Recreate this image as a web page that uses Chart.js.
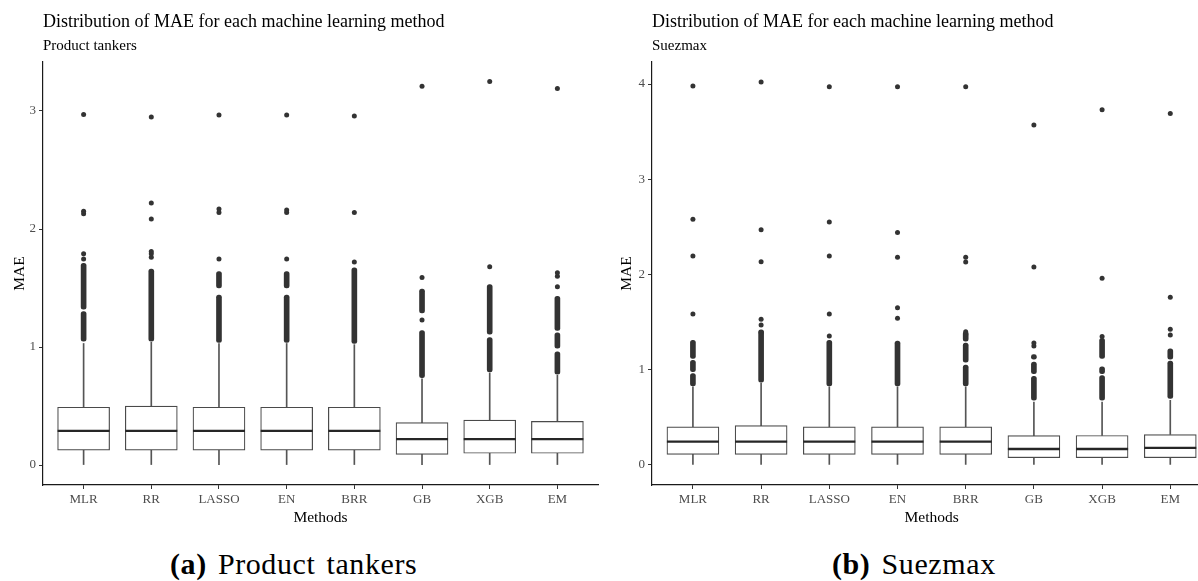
<!DOCTYPE html>
<html>
<head>
<meta charset="utf-8">
<script src="https://cdn.jsdelivr.net/npm/chart.js@4.4.1/dist/chart.umd.min.js"></script>
<style>
  html, body { margin: 0; padding: 0; background: #fff; }
  body { width: 1198px; height: 581px; overflow: hidden; position: relative; font-family: "Liberation Serif", "Times New Roman", serif; }
  .panel { position: absolute; top: 0; height: 532px; overflow: hidden; }
  canvas { position: absolute; left: 0; top: 0; display: block; }
  .title { position: absolute; font-size: 18px; line-height: 18px; color: #000; white-space: nowrap; }
  .subtitle { position: absolute; font-size: 15px; line-height: 15px; color: #000; white-space: nowrap; }
  .caption { position: absolute; top: 549px; font-size: 30px; line-height: 30px; color: #000; white-space: nowrap; letter-spacing: 0.6px; word-spacing: 3px; }
  .caption b { font-weight: bold; }
</style>
</head>
<body>
<div class="panel" style="left:0;width:600px;"><canvas id="c1" width="600" height="532" style="width:600px;height:532px;"></canvas></div>
<div class="panel" style="left:600px;width:598px;"><canvas id="c2" width="620" height="532" style="width:620px;height:532px;"></canvas></div>

<div class="title" style="left:43px;top:12px;">Distribution of MAE for each machine learning method</div>
<div class="subtitle" style="left:43px;top:38px;">Product tankers</div>
<div class="title" style="left:652px;top:12px;">Distribution of MAE for each machine learning method</div>
<div class="subtitle" style="left:652px;top:38px;">Suezmax</div>

<div class="caption" style="left:170px;"><b>(a)</b> Product tankers</div>
<div class="caption" style="left:832px;"><b>(b)</b> Suezmax</div>

<script>
// ---------- categories and tick labels ----------
const methods = ['MLR', 'RR', 'LASSO', 'EN', 'BRR', 'GB', 'XGB', 'EM'];
const ptTicks = [0, 1, 2, 3];
const szTicks = [0, 1, 2, 3, 4];

// ---------- Product tankers (panel a) ----------
const ptLow  = [0, 0, 0, 0, 0, 0, 0, 0];
const ptQ1   = [0.127, 0.127, 0.127, 0.127, 0.127, 0.09, 0.10, 0.10];
const ptMed  = [0.29, 0.29, 0.29, 0.29, 0.29, 0.22, 0.22, 0.22];
const ptQ3   = [0.49, 0.50, 0.49, 0.49, 0.49, 0.36, 0.38, 0.37];
const ptHigh = [1.03, 1.04, 1.03, 1.03, 1.02, 0.73, 0.78, 0.76];
const ptOutliers = [
  [1.745, 1.79, 2.13, 2.15, 2.97],
  [1.76, 1.79, 1.81, 2.085, 2.22, 2.95],
  [1.745, 2.14, 2.17, 2.965],
  [1.745, 2.14, 2.16, 2.965],
  [1.72, 2.14, 2.957],
  [1.23, 1.59, 3.21],
  [1.68, 3.25],
  [1.51, 1.60, 1.63, 3.19]
];
// ranges where outlier points overlap into a solid column
const ptDense = [
  [[1.05, 1.30], [1.32, 1.71]],
  [[1.05, 1.66]],
  [[1.04, 1.44], [1.50, 1.64]],
  [[1.04, 1.44], [1.50, 1.64]],
  [[1.03, 1.67]],
  [[0.74, 1.14], [1.29, 1.49]],
  [[0.79, 1.08], [1.11, 1.53]],
  [[0.77, 0.96], [0.99, 1.12], [1.14, 1.43]]
];

// ---------- Suezmax (panel b) ----------
const szLow  = [0, 0, 0, 0, 0, 0, 0, 0];
const szQ1   = [0.112, 0.112, 0.112, 0.112, 0.112, 0.077, 0.077, 0.077];
const szMed  = [0.245, 0.245, 0.245, 0.245, 0.245, 0.168, 0.168, 0.18];
const szQ3   = [0.40, 0.413, 0.40, 0.40, 0.40, 0.308, 0.31, 0.32];
const szHigh = [0.82, 0.86, 0.82, 0.82, 0.82, 0.66, 0.66, 0.68];
const szOutliers = [
  [1.586, 2.195, 2.58, 3.98],
  [1.39, 1.47, 1.53, 2.135, 2.47, 4.02],
  [1.355, 1.586, 2.195, 2.55, 3.97],
  [1.54, 1.65, 2.18, 2.44, 3.97],
  [1.37, 1.40, 2.13, 2.18, 3.97],
  [1.25, 1.28, 2.08, 3.57],
  [1.35, 1.96, 3.73],
  [1.365, 1.425, 1.76, 3.69]
];
const szDense = [
  [[0.83, 0.96], [0.98, 1.10], [1.12, 1.31]],
  [[0.87, 1.42]],
  [[0.83, 1.31]],
  [[0.83, 1.30]],
  [[0.83, 1.05], [1.08, 1.28], [1.30, 1.40]],
  [[0.68, 0.93], [0.96, 1.08], [1.11, 1.16]],
  [[0.68, 0.94], [0.96, 1.03], [1.12, 1.33]],
  [[0.70, 1.09], [1.11, 1.22]]
];

const FONT = 'Liberation Serif';

function buildDatasets(low, q1, med, q3, high, outl, dense) {
  const pos = i => i + 1;
  return [
    { // individual outliers
      type: 'line', showLine: false, order: 0,
      data: outl.flatMap((vals, i) => vals.map(v => ({ x: pos(i), y: v }))),
      pointRadius: 2.5, pointBackgroundColor: '#333', pointBorderWidth: 0, pointBorderColor: '#333'
    },
    { // overlapping outliers
      type: 'bar', order: 1, grouped: false,
      data: dense.flatMap((segs, i) => segs.map(s => ({ x: pos(i), y: [s[0], s[1]] }))),
      barThickness: 5, borderRadius: 2.5, borderSkipped: false, borderWidth: 0,
      backgroundColor: '#333'
    },
    { // medians
      type: 'line', showLine: false, order: 2,
      data: med.map((v, i) => ({ x: pos(i), y: v })),
      pointStyle: 'line', pointRadius: 26, pointBorderWidth: 2.3, pointBorderColor: '#262626'
    },
    { // boxes
      type: 'bar', order: 3, grouped: false,
      data: q1.map((v, i) => ({ x: pos(i), y: [v, q3[i]] })),
      barThickness: 52, borderSkipped: false, borderWidth: 1.2,
      borderColor: '#4a4a4a', backgroundColor: '#ffffff'
    },
    { // whiskers
      type: 'bar', order: 4, grouped: false,
      data: low.flatMap((v, i) => [{ x: pos(i), y: [v, q1[i]] }, { x: pos(i), y: [q3[i], high[i]] }]),
      barThickness: 1, borderWidth: 0, backgroundColor: '#555'
    }
  ];
}

function makeChart(id, ds, ticksArr, yMin, yMax, yWidth, padRight, yTitlePad) {
  const axisFont = { family: FONT, size: 13 };
  const titleFont = { family: FONT, size: 15.5 };
  return new Chart(document.getElementById(id), {
    type: 'bar',
    data: { datasets: ds },
    options: {
      responsive: false, maintainAspectRatio: false, animation: false, events: [],
      devicePixelRatio: 1,
      layout: { autoPadding: false, padding: { top: 62, right: padRight, left: 0, bottom: 0 } },
      plugins: { legend: { display: false }, tooltip: { enabled: false } },
      scales: {
        x: {
          type: 'linear', min: 0.4, max: 8.6, offset: false,
          afterBuildTicks: s => { s.ticks = methods.map((m, i) => ({ value: i + 1 })); },
          ticks: { callback: v => methods[Math.round(v) - 1], color: '#4d4d4d', font: axisFont, padding: 3, maxRotation: 0, autoSkip: false },
          grid: { offset: false, drawOnChartArea: false, drawTicks: true, tickLength: 4, tickColor: '#333' },
          border: { display: true, color: '#1a1a1a', width: 1.2 },
          title: { display: true, text: 'Methods', color: '#000', font: titleFont, padding: { top: 0, bottom: 5 } },
          afterFit: s => { s.height = 47; }
        },
        y: {
          min: yMin, max: yMax,
          afterBuildTicks: s => { s.ticks = ticksArr.map(v => ({ value: v })); },
          ticks: { color: '#4d4d4d', font: axisFont, padding: 3 },
          grid: { drawOnChartArea: false, drawTicks: true, tickLength: 4, tickColor: '#333' },
          border: { display: true, color: '#1a1a1a', width: 1.2 },
          title: { display: true, text: 'MAE', color: '#000', font: titleFont, padding: { top: yTitlePad, bottom: 0 } },
          afterFit: s => { s.width = yWidth; }
        }
      }
    }
  });
}

makeChart('c1', buildDatasets(ptLow, ptQ1, ptMed, ptQ3, ptHigh, ptOutliers, ptDense), ptTicks, -0.169, 3.415, 43, 2, 11);
makeChart('c2', buildDatasets(szLow, szQ1, szMed, szQ3, szHigh, szOutliers, szDense), szTicks, -0.21, 4.231, 52, 8.8, 18);
</script>
</body>
</html>
